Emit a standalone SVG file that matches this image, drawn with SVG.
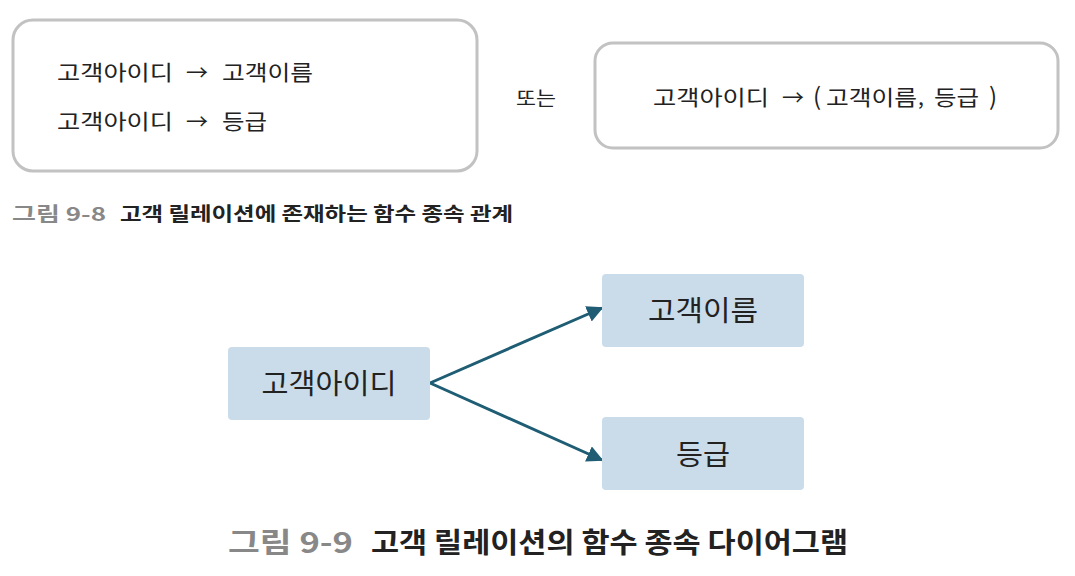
<svg xmlns="http://www.w3.org/2000/svg" width="1075" height="576" viewBox="0 0 1075 576">
<style>
.t{font-family:"Noto Sans CJK KR","Noto Sans",sans-serif;fill:#222}
.frame{fill:#fff;stroke:#c2c2c2;stroke-width:3}
.node{fill:#cadcea}
.cap{font-family:"Noto Sans CJK KR","Noto Sans",sans-serif;font-weight:bold}
.conn{stroke:#1e5d74;stroke-width:3;fill:none}
.nt{font-size:28px;text-anchor:middle}
</style>
<defs>
<marker id="ah" viewBox="0 0 10 10" refX="9" refY="5" markerWidth="5.5" markerHeight="5.5" orient="auto" markerUnits="strokeWidth">
<path d="M0,0 L10,5 L0,10 z" fill="#1e5d74"/>
</marker>
</defs>
<rect width="1075" height="576" fill="#fff"/>
<g id="box1">
<rect class="frame" x="13" y="20" width="464" height="151" rx="20"/>
<text class="t" y="80" font-size="21"><tspan x="57" textLength="116" lengthAdjust="spacingAndGlyphs">고객아이디</tspan><tspan x="186" textLength="22" lengthAdjust="spacingAndGlyphs">→</tspan><tspan x="222" textLength="91" lengthAdjust="spacingAndGlyphs">고객이름</tspan></text>
<text class="t" y="129" font-size="21"><tspan x="57" textLength="116" lengthAdjust="spacingAndGlyphs">고객아이디</tspan><tspan x="186" textLength="22" lengthAdjust="spacingAndGlyphs">→</tspan><tspan x="222" textLength="45" lengthAdjust="spacingAndGlyphs">등급</tspan></text>
</g>
<text class="t" x="516" y="106" font-size="20" textLength="40" lengthAdjust="spacingAndGlyphs" fill="#444">또는</text>
<g id="box2">
<rect class="frame" x="595" y="43" width="463" height="105" rx="18"/>
<text class="t" y="105" font-size="21"><tspan x="653" textLength="116" lengthAdjust="spacingAndGlyphs">고객아이디</tspan><tspan x="782" textLength="22" lengthAdjust="spacingAndGlyphs">→</tspan><tspan x="813" font-size="24">(</tspan><tspan x="826" textLength="91" lengthAdjust="spacingAndGlyphs">고객이름</tspan><tspan x="918">,</tspan><tspan x="934" textLength="45" lengthAdjust="spacingAndGlyphs">등급</tspan><tspan x="989" font-size="24">)</tspan></text>
</g>
<g id="caption1">
<text class="cap" x="12" y="221" font-size="19" fill="#888" textLength="94" lengthAdjust="spacingAndGlyphs">그림 9-8</text>
<text class="cap" x="120" y="221" font-size="19" fill="#222" textLength="393" lengthAdjust="spacingAndGlyphs">고객 릴레이션에 존재하는 함수 종속 관계</text>
</g>
<g id="connectors">
<line class="conn" x1="430" y1="383" x2="602" y2="308" marker-end="url(#ah)"/>
<line class="conn" x1="430" y1="383" x2="602" y2="460" marker-end="url(#ah)"/>
</g>
<g id="n-id">
<rect class="node" x="228" y="347" width="202" height="73" rx="4"/>
<text class="t nt" x="329" y="394" textLength="135" lengthAdjust="spacingAndGlyphs">고객아이디</text>
</g>
<g id="n-name">
<rect class="node" x="602" y="274" width="202" height="73" rx="4"/>
<text class="t nt" x="703" y="321" textLength="110" lengthAdjust="spacingAndGlyphs">고객이름</text>
</g>
<g id="n-grade">
<rect class="node" x="602" y="417" width="202" height="73" rx="4"/>
<text class="t nt" x="703" y="465" textLength="54" lengthAdjust="spacingAndGlyphs">등급</text>
</g>
<g id="caption2">
<text class="cap" x="228" y="553" font-size="28" fill="#888" textLength="125" lengthAdjust="spacingAndGlyphs">그림 9-9</text>
<text class="cap" x="371" y="553" font-size="28" fill="#222" textLength="477" lengthAdjust="spacingAndGlyphs">고객 릴레이션의 함수 종속 다이어그램</text>
</g>
</svg>
